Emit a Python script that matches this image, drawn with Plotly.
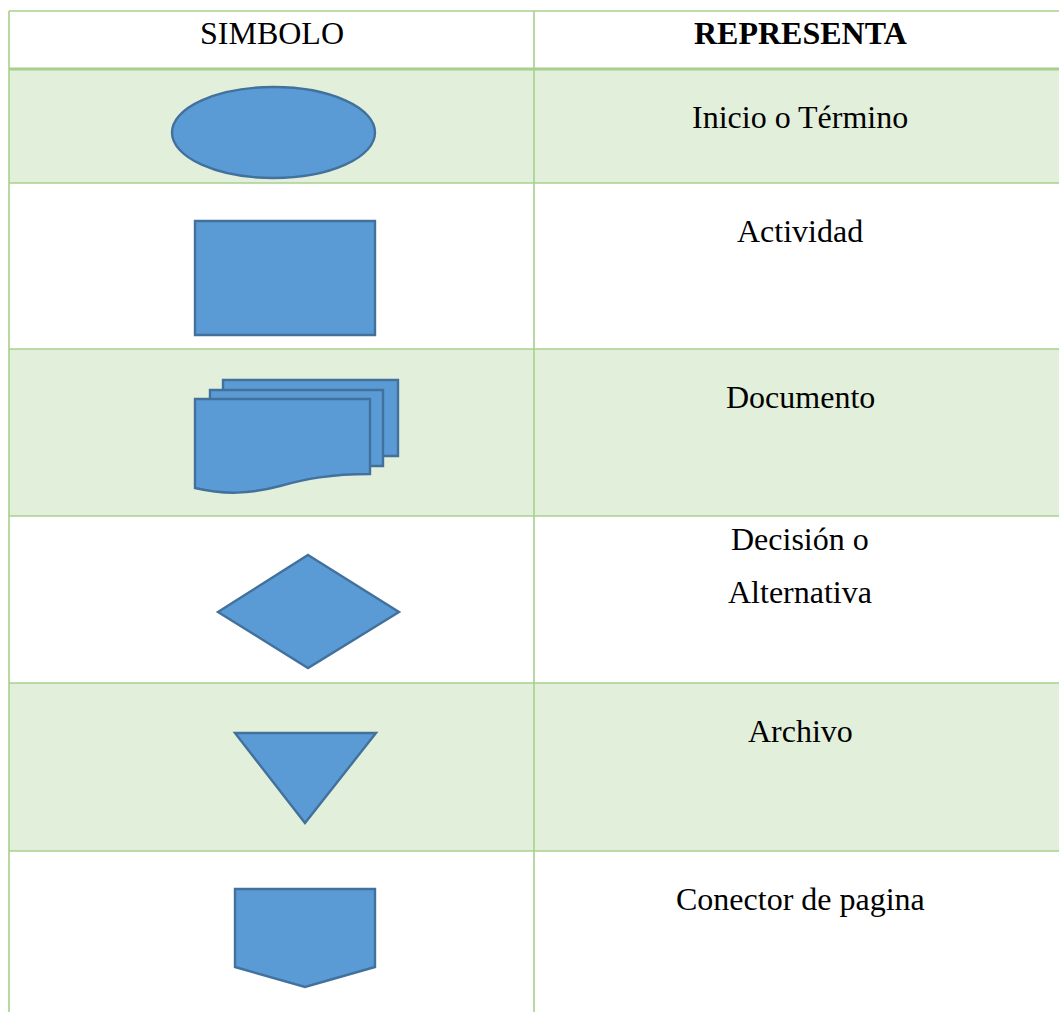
import plotly.graph_objects as go

# ---- data ----
encabezados = ["SIMBOLO", "REPRESENTA"]
simbolos = ["ellipse", "rect", "document", "diamond", "triangle", "connector"]
representa = [["Inicio o Término"], ["Actividad"], ["Documento"],
              ["Decisión o", "Alternativa"], ["Archivo"], ["Conector de pagina"]]

# ---- layout constants (pixel space) ----
W, H = 1059, 1012
X_LEFT, X_DIV, X_RIGHT = 9, 534, 1059
ROW_TOPS = [11, 69, 183, 349, 516, 683, 851]
Y_BOTTOM = H
GREEN_FILL = "#E2EFDA"
GREEN_LINE = "#A8D08D"
BLUE_FILL = "#5B9BD5"
BLUE_LINE = "#41719C"
FONT = "Liberation Serif, Times New Roman, serif"
FS = 32

fig = go.Figure()
shapes = []
annotations = []

# cell backgrounds (alternating banding, data rows 1,3,5 green)
for i in range(len(simbolos)):
    top = ROW_TOPS[i + 1]
    bot = ROW_TOPS[i + 2] if i + 2 < len(ROW_TOPS) else Y_BOTTOM
    if i % 2 == 0:
        shapes.append(dict(type="rect", x0=X_LEFT, x1=X_RIGHT, y0=top, y1=bot,
                           fillcolor=GREEN_FILL, line=dict(width=0), layer="below"))

# grid lines
for j, y in enumerate(ROW_TOPS):
    shapes.append(dict(type="line", x0=X_LEFT, x1=X_RIGHT, y0=y, y1=y,
                       line=dict(color=GREEN_LINE, width=3 if j == 1 else 1.6)))
shapes.append(dict(type="line", x0=X_LEFT, x1=X_LEFT, y0=ROW_TOPS[0], y1=Y_BOTTOM,
                   line=dict(color=GREEN_LINE, width=1.6)))
shapes.append(dict(type="line", x0=X_DIV, x1=X_DIV, y0=ROW_TOPS[0], y1=Y_BOTTOM,
                   line=dict(color=GREEN_LINE, width=1.6)))

sym_style = dict(fillcolor=BLUE_FILL, line=dict(color=BLUE_LINE, width=2.4))


def path(points, close=True):
    s = "M " + " L ".join(f"{x},{y}" for x, y in points)
    return s + (" Z" if close else "")


def draw_symbol(kind, top):
    if kind == "ellipse":
        shapes.append(dict(type="circle", x0=172, x1=375, y0=top + 18, y1=top + 109, **sym_style))
    elif kind == "rect":
        shapes.append(dict(type="rect", x0=195, x1=375, y0=top + 38, y1=top + 152, **sym_style))
    elif kind == "document":
        shapes.append(dict(type="rect", x0=223, x1=398, y0=top + 31, y1=top + 107, **sym_style))
        shapes.append(dict(type="rect", x0=210, x1=383, y0=top + 41, y1=top + 117, **sym_style))
        t = top + 50
        p = (f"M 195,{t} L 370,{t} L 370,{top + 125} "
             f"C 330,{top + 125} 305,{top + 130} 280,{top + 137} "
             f"C 250,{top + 145} 225,{top + 146} 195,{top + 139} Z")
        shapes.append(dict(type="path", path=p, **sym_style))
    elif kind == "diamond":
        shapes.append(dict(type="path", path=path([(308, top + 39), (399, top + 96),
                                                   (308, top + 152), (218, top + 96)]), **sym_style))
    elif kind == "triangle":
        shapes.append(dict(type="path", path=path([(235, top + 50), (376, top + 50),
                                                   (305, top + 140)]), **sym_style))
    elif kind == "connector":
        shapes.append(dict(type="path", path=path([(235, top + 38), (375, top + 38), (375, top + 116),
                                                   (305, top + 136), (235, top + 116)]), **sym_style))


for i, kind in enumerate(simbolos):
    draw_symbol(kind, ROW_TOPS[i + 1])

# header text
col_centers = [(X_LEFT + X_DIV) / 2, 800]
for k, txt in enumerate(encabezados):
    annotations.append(dict(x=col_centers[k], y=ROW_TOPS[0] + 22,
                            text=f"<b>{txt}</b>" if k == 1 else txt,
                            showarrow=False, xanchor="center", yanchor="middle",
                            font=dict(family=FONT, size=FS, color="black")))

# description text
for i, lines in enumerate(representa):
    top = ROW_TOPS[i + 1]
    if len(lines) == 1:
        ys = [top + 48]
    else:
        ys = [top + 23, top + 76]
    for line, y in zip(lines, ys):
        annotations.append(dict(x=col_centers[1], y=y, text=line, showarrow=False,
                                xanchor="center", yanchor="middle",
                                font=dict(family=FONT, size=FS, color="black")))

fig.update_layout(
    width=W, height=H,
    margin=dict(l=0, r=0, t=0, b=0),
    paper_bgcolor="white", plot_bgcolor="white",
    xaxis=dict(range=[0, W], visible=False, fixedrange=True),
    yaxis=dict(range=[H, 0], visible=False, fixedrange=True),
    shapes=shapes, annotations=annotations, showlegend=False,
)

fig.write_html("out.html", config=dict(displayModeBar=False),
               post_script="document.body.style.margin='0px';document.body.style.overflow='hidden';")
